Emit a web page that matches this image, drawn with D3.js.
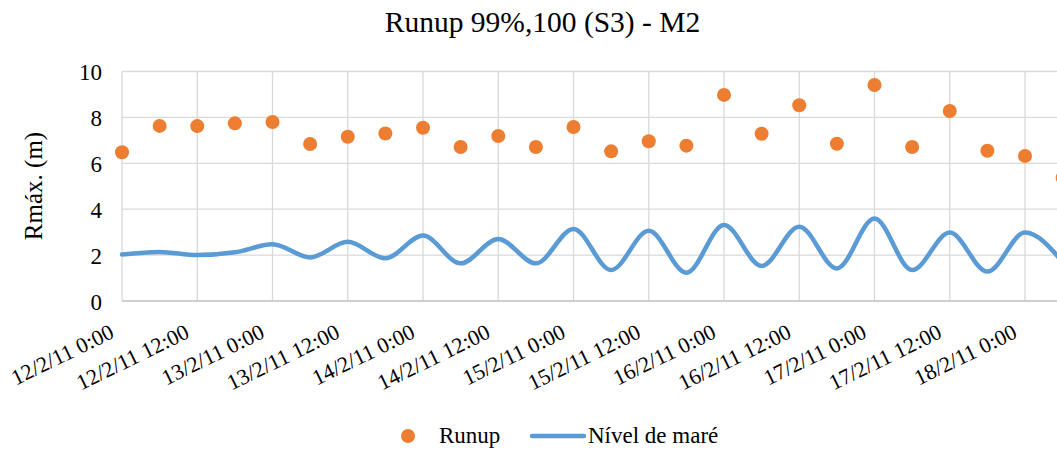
<!DOCTYPE html>
<html><head><meta charset="utf-8">
<script src="https://cdn.jsdelivr.net/npm/d3@7/dist/d3.min.js"></script>
<style>
html,body{margin:0;padding:0;background:#fff;overflow:hidden}
svg{display:block}
</style></head><body>
<svg id="c" width="1057" height="452" font-family="Liberation Serif"></svg>
<script>
// ---- data ----
const title = "Runup 99%,100 (S3) - M2";
const yLabel = "Rmáx. (m)";
const seriesNames = ["Runup", "Nível de maré"];
const yTicks = [0, 2, 4, 6, 8, 10];
const tickLabels = ["12/2/11 0:00","12/2/11 12:00","13/2/11 0:00","13/2/11 12:00","14/2/11 0:00","14/2/11 12:00","15/2/11 0:00","15/2/11 12:00","16/2/11 0:00","16/2/11 12:00","17/2/11 0:00","17/2/11 12:00","18/2/11 0:00"];
// 6-hourly timestamps (hours since 12/2/11 0:00)
const hours = [0,6,12,18,24,30,36,42,48,54,60,66,72,78,84,90,96,102,108,114,120,126,132,138,144,150];
const runup = [6.48,7.63,7.62,7.74,7.80,6.84,7.16,7.30,7.55,6.71,7.19,6.71,7.58,6.52,6.96,6.77,8.98,7.29,8.53,6.85,9.41,6.71,8.28,6.55,6.32,5.37];
const tide  = [2.03,2.14,2.00,2.12,2.47,1.90,2.58,1.86,2.85,1.64,2.70,1.64,3.14,1.35,3.06,1.23,3.31,1.53,3.24,1.42,3.60,1.35,2.98,1.28,2.98,1.70];

// ---- layout ----
const svg = d3.select("#c");
const FONT = "Liberation Serif";
const t0 = new Date(2011,1,12,0,0);
const hToDate = h => new Date(t0.getTime() + h*3600e3);
const left = 122, pxPer12h = 75.25;
const x = d3.scaleTime()
  .domain([t0, hToDate(150)])
  .range([left, left + 150/12*pxPer12h]);
const y = d3.scaleLinear().domain([0,10]).range([301,71.5]);
const plotRight = 1057;

// title
svg.append("text").attr("x",542.5).attr("y",32).attr("text-anchor","middle")
  .attr("font-family",FONT).attr("font-size",29.5).attr("fill","#000").text(title);

// gridlines horizontal
svg.append("g").selectAll("line").data(yTicks.filter(d=>d>0)).join("line")
  .attr("x1",left).attr("x2",plotRight)
  .attr("y1",d=>y(d)).attr("y2",d=>y(d))
  .attr("stroke","#d9d9d9").attr("stroke-width",1.3);

// vertical gridlines at 12h ticks
const tickDates = tickLabels.map((d,i)=>hToDate(i*12));
svg.append("g").selectAll("line").data(tickDates).join("line")
  .attr("x1",d=>x(d)).attr("x2",d=>x(d))
  .attr("y1",y(10)).attr("y2",y(0))
  .attr("stroke","#d9d9d9").attr("stroke-width",1.3);

// bottom axis line
svg.append("line").attr("x1",left).attr("x2",plotRight)
  .attr("y1",y(0)).attr("y2",y(0)).attr("stroke","#bfbfbf").attr("stroke-width",1.5);

// y axis via d3
const yAxis = d3.axisLeft(y).tickValues(yTicks).tickSize(0).tickPadding(0);
const ga = svg.append("g").attr("transform",`translate(${left-20},0)`).call(yAxis);
ga.attr("font-family",FONT).attr("font-size",23);
ga.select(".domain").remove();
ga.selectAll("text").attr("fill","#000").attr("dy","0.35em");

// y label
svg.append("text").attr("transform","translate(42,186) rotate(-90)")
  .attr("font-family",FONT).attr("font-size",25).attr("fill","#000")
  .attr("text-anchor","middle").text(yLabel);

// x tick labels rotated
const xAxis = d3.axisBottom(x).tickValues(tickDates).tickSize(0).tickFormat((d,i)=>tickLabels[i]);
const gx = svg.append("g").attr("transform",`translate(0,${y(0)})`).call(xAxis);
gx.attr("font-family",FONT).attr("font-size",22);
gx.select(".domain").remove();
gx.selectAll("text")
  .attr("fill","#000")
  .attr("text-anchor","end")
  .attr("x",0).attr("y",0).attr("dy","0")
  .attr("transform","translate(-7,36) rotate(-26)");

// tide line
const line = d3.line().x((d,i)=>x(hToDate(hours[i]))).y(d=>y(d)).curve(d3.curveMonotoneX);
svg.append("path").datum(tide).attr("d",line)
  .attr("fill","none").attr("stroke","#5b9bd5").attr("stroke-width",4.5).attr("stroke-linecap","round");

// runup dots
svg.append("g").selectAll("circle").data(runup).join("circle")
  .attr("cx",(d,i)=>x(hToDate(hours[i]))).attr("cy",d=>y(d)).attr("r",7)
  .attr("fill","#ed7d31");

// legend
const lg = svg.append("g").attr("font-family",FONT).attr("font-size",23);
lg.append("circle").attr("cx",408).attr("cy",436).attr("r",7).attr("fill","#ed7d31");
lg.append("text").attr("x",439).attr("y",443).attr("fill","#000").text(seriesNames[0]);
lg.append("line").attr("x1",532).attr("x2",584).attr("y1",436).attr("y2",436)
  .attr("stroke","#5b9bd5").attr("stroke-width",4.5).attr("stroke-linecap","round");
lg.append("text").attr("x",588).attr("y",443).attr("fill","#000").text(seriesNames[1]);
</script>
</body></html>
